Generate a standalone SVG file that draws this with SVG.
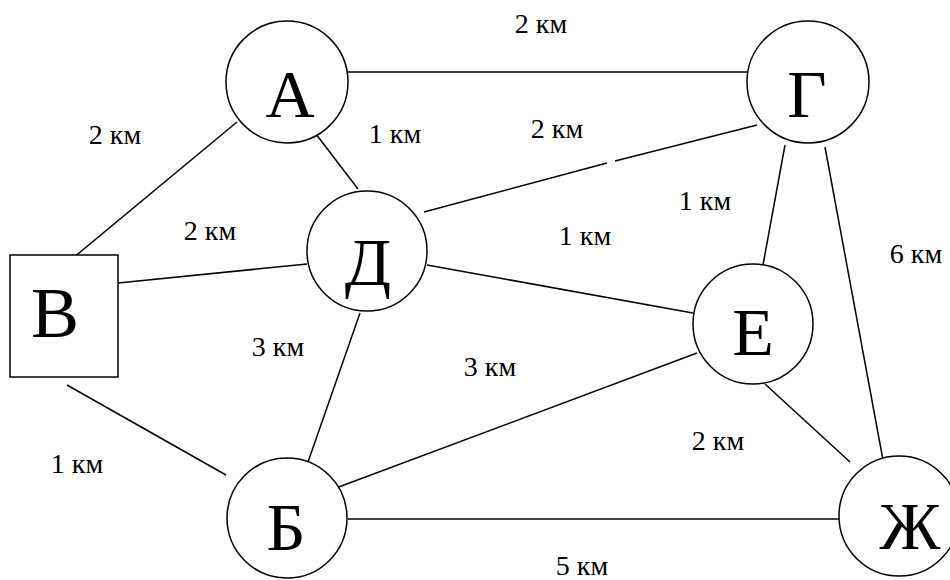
<svg xmlns="http://www.w3.org/2000/svg" width="950" height="580" viewBox="0 0 950 580">
<style>
.n{fill:#fff;stroke:#000;stroke-width:1.5}
.e{stroke:#000;stroke-width:1.5;fill:none}
.L{font-family:"Liberation Serif","Times New Roman",serif;font-size:68px;text-anchor:middle;fill:#000}
.t{font-family:"Liberation Serif","Times New Roman",serif;font-size:28px;text-anchor:middle;fill:#000}
</style>
<rect width="950" height="580" fill="#fff"/>
<g id="edges">
<line class="e" x1="348" y1="72" x2="747" y2="72"/>
<line class="e" x1="237" y1="122" x2="67" y2="263"/>
<line class="e" x1="306" y1="121" x2="358" y2="189"/>
<line class="e" x1="424" y1="212" x2="607" y2="163"/>
<line class="e" x1="615" y1="161" x2="757" y2="125"/>
<line class="e" x1="118" y1="283" x2="307" y2="264"/>
<line class="e" x1="67" y1="385" x2="226" y2="475"/>
<line class="e" x1="360" y1="313" x2="308" y2="462"/>
<line class="e" x1="427" y1="265" x2="693" y2="313"/>
<line class="e" x1="785" y1="145" x2="763" y2="265"/>
<line class="e" x1="825" y1="147" x2="883" y2="460"/>
<line class="e" x1="697" y1="353" x2="336" y2="488"/>
<line class="e" x1="765" y1="384" x2="850" y2="462"/>
<line class="e" x1="348" y1="519" x2="839" y2="519"/>
</g>
<g id="labels">
<text class="t" x="541" y="33">2 км</text>
<text class="t" x="115" y="144">2 км</text>
<text class="t" x="395" y="143">1 км</text>
<text class="t" x="557" y="138">2 км</text>
<text class="t" x="705" y="210">1 км</text>
<text class="t" x="585" y="245">1 км</text>
<text class="t" x="210" y="240">2 км</text>
<text class="t" x="916" y="263">6 км</text>
<text class="t" x="278" y="356">3 км</text>
<text class="t" x="490" y="376">3 км</text>
<text class="t" x="718" y="450">2 км</text>
<text class="t" x="77" y="473">1 км</text>
<text class="t" x="582" y="575">5 км</text>
</g>
<g id="node-A"><circle class="n" cx="287" cy="82" r="61"/><text class="L" x="290" y="117">А</text></g>
<g id="node-G"><circle class="n" cx="808" cy="82" r="61"/><text class="L" x="807" y="117">Г</text></g>
<g id="node-D"><circle class="n" cx="367" cy="251" r="60"/><text class="L" x="368" y="285">Д</text></g>
<g id="node-E"><circle class="n" cx="753" cy="324" r="60"/><text class="L" x="753" y="355">Е</text></g>
<g id="node-B"><circle class="n" cx="287" cy="518" r="60"/><text class="L" x="286" y="550">Б</text></g>
<g id="node-Zh"><circle class="n" cx="899" cy="516" r="60"/><text class="L" x="910" y="549">Ж</text></g>
<g id="node-V"><rect class="n" x="10" y="255" width="108" height="122"/><text class="L" x="55" y="337" style="font-size:72px">В</text></g>
</svg>
